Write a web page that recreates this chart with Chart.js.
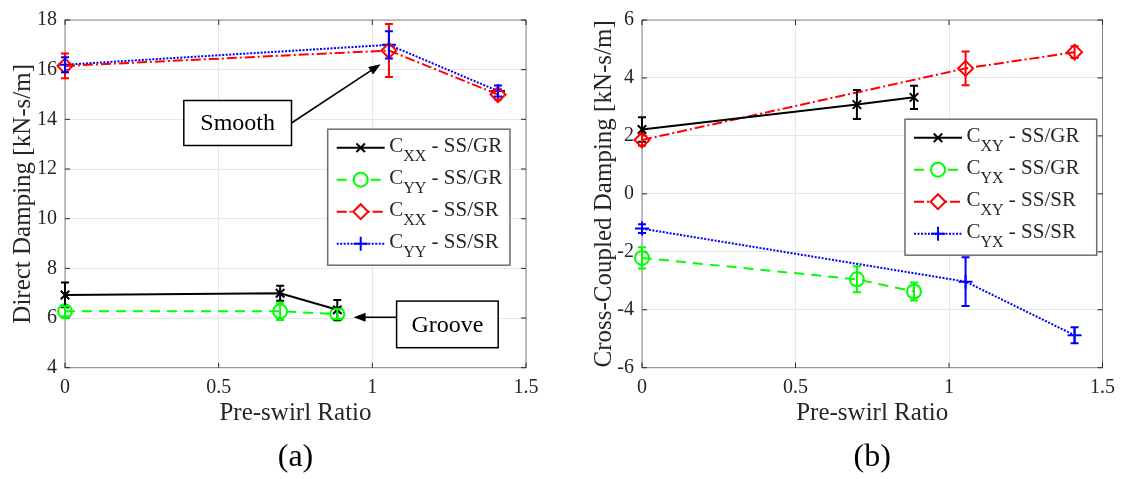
<!DOCTYPE html>
<html>
<head>
<meta charset="utf-8">
<script src="https://cdn.jsdelivr.net/npm/chart.js"></script>
<style>
  body { margin: 0; background: #fff; }
  #wrap { position: relative; width: 1123px; height: 479px; }
  canvas { position: absolute; top: 0; }
  #direct { left: 0; }
  #cross { left: 561px; }
</style>
</head>
<body>
<div id="wrap">
  <canvas id="direct" width="561" height="479"></canvas>
  <canvas id="cross" width="562" height="479"></canvas>
</div>
<script>
// pre-swirl ratios tested for each seal pair
const grSwirl = [0, 0.70, 0.886];
const srSwirl = [0, 1.054, 1.409];

const xTicks = [0, 0.5, 1, 1.5];
const directTicks = [4, 6, 8, 10, 12, 14, 16, 18];
const crossTicks = [-6, -4, -2, 0, 2, 4, 6];

// direct damping [kN-s/m] and error bar half-widths
const cxxGR = [6.93, 7.00, 6.33];
const cxxGRErr = [0.5, 0.3, 0.4];
const cyyGR = [6.27, 6.27, 6.16];
const cyyGRErr = [0.2, 0.35, 0.2];
const cxxSR = [16.15, 16.77, 15.0];
const cxxSRErr = [0.5, 1.07, 0.2];
const cyySR = [16.2, 17.0, 15.14];
const cyySRErr = [0.3, 0.55, 0.22];

// cross-coupled damping [kN-s/m]
const cxyGR = [2.22, 3.08, 3.33];
const cxyGRErr = [0.42, 0.5, 0.4];
const cyxGR = [-2.21, -2.95, -3.37];
const cyxGRErr = [0.37, 0.45, 0.31];
const cxySR = [1.86, 4.33, 4.89];
const cxySRErr = [0.2, 0.58, 0.2];
const cyxSR = [-1.2, -3.03, -4.88];
const cyxSRErr = [0.15, 0.84, 0.28];

const directSubs = ["XX", "YY", "XX", "YY"];
const crossSubs = ["XY", "YX", "XY", "YX"];
const pairNames = [" - SS/GR", " - SS/GR", " - SS/SR", " - SS/SR"];

const serif = "'Liberation Serif', 'Times New Roman', serif";
const ink = "#262626";

// line style for each of the four series (same order in both plots)
const looks = [
  { color: "#000000", dash: [], marker: "crossRot", r: 6 },
  { color: "#00ff00", dash: [10, 7], marker: "circle", r: 7 },
  { color: "#ff0000", dash: [10, 3, 2, 3], marker: "rectRot", r: 7.5 },
  { color: "#0000ff", dash: [2, 1.5], marker: "cross", r: 7 },
];

function series(xs, ys, errs, i, sub) {
  const lk = looks[i];
  return {
    data: xs.map((x, k) => ({ x: x, y: ys[k] })),
    errors: errs,
    sub: sub,
    tail: pairNames[i],
    borderColor: lk.color,
    borderDash: lk.dash,
    borderWidth: 2,
    pointStyle: lk.marker,
    pointRadius: lk.r,
    pointBorderWidth: 2,
    pointBorderColor: lk.color,
    pointBackgroundColor: "rgba(0,0,0,0)",
    tension: 0,
    clip: 12,
  };
}

// box round the plot with inward ticks on all four sides
const frame = {
  id: "frame",
  beforeDatasetsDraw(chart) {
    const ctx = chart.ctx, a = chart.chartArea;
    const xs = chart.scales.x, ys = chart.scales.y;
    ctx.save();
    ctx.strokeStyle = "#858585";
    ctx.lineWidth = 1;
    ctx.strokeRect(a.left, a.top, a.right - a.left, a.bottom - a.top);
    ctx.strokeStyle = ink;
    ctx.beginPath();
    xs.ticks.forEach(t => {
      const px = xs.getPixelForValue(t.value);
      ctx.moveTo(px, a.bottom); ctx.lineTo(px, a.bottom - 5);
      ctx.moveTo(px, a.top); ctx.lineTo(px, a.top + 5);
    });
    ys.ticks.forEach(t => {
      const py = ys.getPixelForValue(t.value);
      ctx.moveTo(a.left, py); ctx.lineTo(a.left + 5, py);
      ctx.moveTo(a.right, py); ctx.lineTo(a.right - 5, py);
    });
    ctx.stroke();
    ctx.restore();
  },
};

const errorBars = {
  id: "errorBars",
  afterDatasetsDraw(chart) {
    const ctx = chart.ctx, xs = chart.scales.x, ys = chart.scales.y;
    ctx.save();
    ctx.lineWidth = 2;
    ctx.setLineDash([]);
    chart.data.datasets.forEach(ds => {
      ctx.strokeStyle = ds.borderColor;
      ds.data.forEach((p, i) => {
        const px = xs.getPixelForValue(p.x);
        const top = ys.getPixelForValue(p.y + ds.errors[i]);
        const bot = ys.getPixelForValue(p.y - ds.errors[i]);
        ctx.beginPath();
        ctx.moveTo(px, top); ctx.lineTo(px, bot);
        ctx.moveTo(px - 4, top); ctx.lineTo(px + 4, top);
        ctx.moveTo(px - 4, bot); ctx.lineTo(px + 4, bot);
        ctx.stroke();
      });
    });
    ctx.restore();
  },
};

// legend with subscripted labels, drawn inside the axes
function boxLegend(pos) {
  return {
    id: "boxLegend",
    afterDraw(chart) {
      const ctx = chart.ctx, a = chart.chartArea;
      const x0 = a.left + pos.x, y0 = a.top + pos.y;
      ctx.save();
      ctx.fillStyle = "#fff";
      ctx.strokeStyle = "#6e6e6e";
      ctx.lineWidth = 1.5;
      ctx.fillRect(x0, y0, pos.w, pos.h);
      ctx.strokeRect(x0, y0, pos.w, pos.h);
      chart.data.datasets.forEach((ds, i) => {
        const cy = y0 + 18.5 + i * 32;
        ctx.strokeStyle = ds.borderColor;
        ctx.lineWidth = 2;
        ctx.setLineDash(ds.borderDash);
        ctx.beginPath();
        ctx.moveTo(x0 + 9, cy); ctx.lineTo(x0 + 57, cy);
        ctx.stroke();
        ctx.setLineDash([]);
        ctx.fillStyle = "#fff";
        Chart.helpers.drawPoint(ctx, { pointStyle: ds.pointStyle, radius: ds.pointRadius, rotation: 0, borderWidth: 2 }, x0 + 33, cy);
        ctx.fillStyle = ink;
        ctx.textBaseline = "alphabetic";
        let tx = x0 + 61.5;
        ctx.font = "21px " + serif;
        ctx.fillText("C", tx, cy + 4);
        tx += ctx.measureText("C").width;
        ctx.font = "16px " + serif;
        ctx.fillText(ds.sub, tx, cy + 13);
        tx += ctx.measureText(ds.sub).width;
        ctx.font = "21px " + serif;
        ctx.fillText(ds.tail, tx, cy + 4);
      });
      ctx.restore();
    },
  };
}

// text boxes with arrows pointing at a spot given in data units
function callouts(items) {
  return {
    id: "callouts",
    afterDraw(chart) {
      const ctx = chart.ctx, a = chart.chartArea;
      const xs = chart.scales.x, ys = chart.scales.y;
      ctx.save();
      items.forEach(c => {
        const bx = a.left + c.box[0], by = a.top + c.box[1], bw = c.box[2], bh = c.box[3];
        const tx = xs.getPixelForValue(c.tip[0]), ty = ys.getPixelForValue(c.tip[1]);
        const sx = c.side === "left" ? bx : bx + bw;
        const sy = c.side === "left" ? ty : by + bh / 2;
        const ang = Math.atan2(ty - sy, tx - sx);
        ctx.strokeStyle = "#000";
        ctx.fillStyle = "#000";
        ctx.lineWidth = 1.5;
        ctx.beginPath();
        ctx.moveTo(sx, sy);
        ctx.lineTo(tx - 9 * Math.cos(ang), ty - 9 * Math.sin(ang));
        ctx.stroke();
        ctx.beginPath();
        ctx.moveTo(tx, ty);
        ctx.lineTo(tx - 12 * Math.cos(ang) + 4.5 * Math.sin(ang), ty - 12 * Math.sin(ang) - 4.5 * Math.cos(ang));
        ctx.lineTo(tx - 12 * Math.cos(ang) - 4.5 * Math.sin(ang), ty - 12 * Math.sin(ang) + 4.5 * Math.cos(ang));
        ctx.closePath();
        ctx.fill();
        ctx.fillStyle = "#fff";
        ctx.fillRect(bx, by, bw, bh);
        ctx.strokeRect(bx, by, bw, bh);
        ctx.fillStyle = "#000";
        ctx.font = "24px " + serif;
        ctx.textAlign = "center";
        ctx.textBaseline = "middle";
        ctx.fillText(c.text, bx + bw / 2, by + bh / 2 + 1);
      });
      ctx.restore();
    },
  };
}

// panel letter centred under the plot area
function panelTag(text) {
  return {
    id: "panelTag",
    afterDraw(chart) {
      const ctx = chart.ctx, a = chart.chartArea;
      ctx.save();
      ctx.fillStyle = "#000";
      ctx.font = "32px " + serif;
      ctx.textAlign = "center";
      ctx.textBaseline = "middle";
      ctx.fillText(text, (a.left + a.right) / 2, 458);
      ctx.restore();
    },
  };
}

function buildChart(id, cfg) {
  const tickFont = { family: serif, size: 20 };
  return new Chart(document.getElementById(id), {
    type: "line",
    data: { datasets: cfg.datasets },
    options: {
      responsive: false,
      animation: false,
      devicePixelRatio: 1,
      layout: { padding: { top: 13.5, right: cfg.padRight, left: 0, bottom: 0 } },
      plugins: {
        legend: { display: false },
        tooltip: { enabled: false },
        title: { display: false },
      },
      scales: {
        x: {
          type: "linear",
          min: 0,
          max: 1.5,
          afterFit: s => { s.height = 111.3; },
          afterBuildTicks: s => { s.ticks = xTicks.map(v => ({ value: v })); },
          ticks: { callback: v => String(v), color: ink, font: tickFont, padding: 8, maxRotation: 0 },
          grid: { color: "#e6e6e6", drawTicks: false },
          border: { display: false },
          title: {
            display: true,
            text: "Pre-swirl Ratio",
            color: ink,
            font: { family: serif, size: 25 },
            padding: { top: 0, bottom: 51 },
          },
        },
        y: {
          min: cfg.yTicks[0],
          max: cfg.yTicks[cfg.yTicks.length - 1],
          afterFit: s => { s.width = cfg.yWidth; },
          afterBuildTicks: s => { s.ticks = cfg.yTicks.map(v => ({ value: v })); },
          ticks: { callback: v => String(v), color: ink, font: tickFont, padding: 8 },
          grid: { color: "#e6e6e6", drawTicks: false },
          border: { display: false },
          title: {
            display: true,
            text: cfg.yTitle,
            color: ink,
            font: { family: serif, size: 25 },
            padding: { top: cfg.yTitlePad, bottom: 0 },
          },
        },
      },
    },
    plugins: [frame, errorBars, boxLegend(cfg.legendBox), callouts(cfg.notes || []), panelTag(cfg.tag)],
  });
}

buildChart("direct", {
  tag: "(a)",
  yTitle: "Direct Damping [kN-s/m]",
  yTicks: directTicks,
  yWidth: 65,
  yTitlePad: 8.5,
  padRight: 35,
  legendBox: { x: 262.7, y: 109.2, w: 182.3, h: 136 },
  notes: [
    { text: "Smooth", box: [118.8, 80.5, 107.7, 45], tip: [1.027, 16.22], side: "right" },
    { text: "Groove", box: [331.6, 281.1, 101.6, 46.6], tip: [0.939, 6.03], side: "left" },
  ],
  datasets: [
    series(grSwirl, cxxGR, cxxGRErr, 0, directSubs[0]),
    series(grSwirl, cyyGR, cyyGRErr, 1, directSubs[1]),
    series(srSwirl, cxxSR, cxxSRErr, 2, directSubs[2]),
    series(srSwirl, cyySR, cyySRErr, 3, directSubs[3]),
  ],
});

buildChart("cross", {
  tag: "(b)",
  yTitle: "Cross-Coupled Damping [kN-s/m]",
  yTicks: crossTicks,
  yWidth: 81,
  yTitlePad: 28.5,
  padRight: 20,
  legendBox: { x: 263, y: 99.2, w: 191.7, h: 136 },
  datasets: [
    series(grSwirl, cxyGR, cxyGRErr, 0, crossSubs[0]),
    series(grSwirl, cyxGR, cyxGRErr, 1, crossSubs[1]),
    series(srSwirl, cxySR, cxySRErr, 2, crossSubs[2]),
    series(srSwirl, cyxSR, cyxSRErr, 3, crossSubs[3]),
  ],
});
</script>
</body>
</html>
